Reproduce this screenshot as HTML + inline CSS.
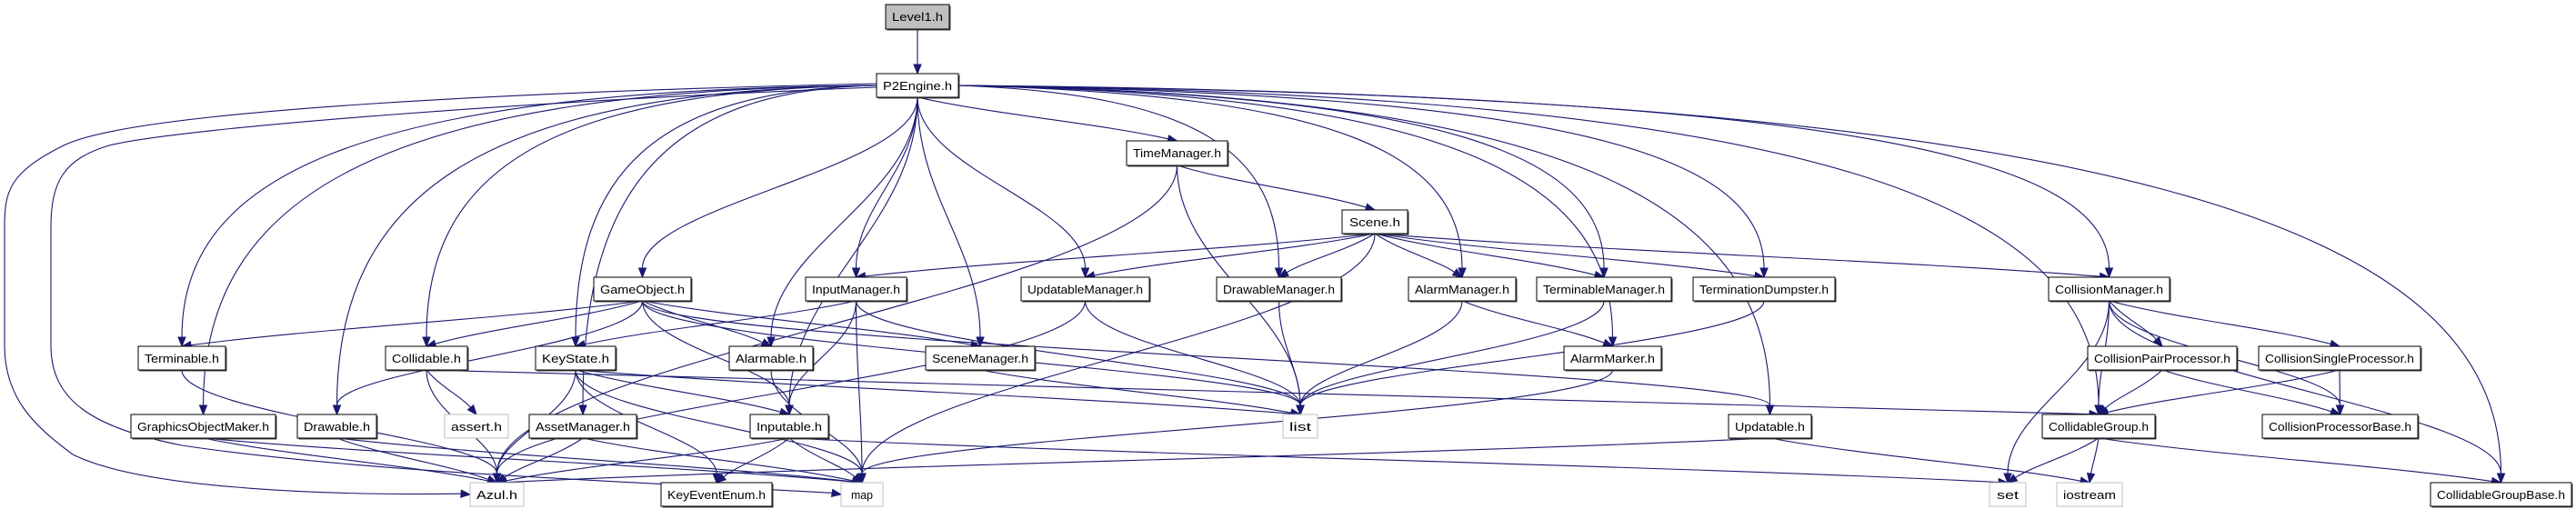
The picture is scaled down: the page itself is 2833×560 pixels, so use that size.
<!DOCTYPE html>
<html><head><meta charset="utf-8"><style>
html,body{margin:0;padding:0;background:#fff;}
svg{display:block}
text{font-family:"Liberation Sans",sans-serif;font-size:13px;fill:#000}
</style></head><body>
<svg id="g" width="2833" height="560" viewBox="0 0 2833 560" xmlns="http://www.w3.org/2000/svg"></svg>
<script>
var R=[[5,32],[81,107],[155,182],[231,257],[305,331],[381,407],[456,482],[531,557]];
var N={
"Level1.h":[974,1044,0,2],"P2Engine.h":[964,1054,1],"TimeManager.h":[1239,1350,2],"Scene.h":[1476,1548,3],
"GameObject.h":[653,760,4],"InputManager.h":[886,997,4],"UpdatableManager.h":[1123,1264,4],"DrawableManager.h":[1338,1475,4],
"AlarmManager.h":[1549,1667,4],"TerminableManager.h":[1690,1838,4],"TerminationDumpster.h":[1862,2018,4],"CollisionManager.h":[2253,2386,4],
"Terminable.h":[152,248,5],"Collidable.h":[424,514,5],"KeyState.h":[589,677,5],"Alarmable.h":[802,894,5],"SceneManager.h":[1018,1138,5],
"AlarmMarker.h":[1720,1827,5],"CollisionPairProcessor.h":[2296,2460,5],"CollisionSingleProcessor.h":[2484,2662,5],
"GraphicsObjectMaker.h":[144,303,6],"Drawable.h":[327,414,6],"assert.h":[489,559,6,1],"AssetManager.h":[582,700,6],"Inputable.h":[825,911,6],
"list":[1411,1449,6,1],"Updatable.h":[1901,1992,6],"CollidableGroup.h":[2246,2370,6],"CollisionProcessorBase.h":[2488,2659,6],
"Azul.h":[517,576,7,1],"KeyEventEnum.h":[727,849,7],"map":[925,971,7,1],"set":[2188,2228,7,1],"iostream":[2262,2334,7,1],"CollidableGroupBase.h":[2673,2828,7]};
var E=[["Level1.h","P2Engine.h"]];
["Terminable.h","GraphicsObjectMaker.h","Drawable.h","Collidable.h","AssetManager.h","GameObject.h","KeyState.h","Inputable.h","Alarmable.h","InputManager.h","SceneManager.h","UpdatableManager.h","TimeManager.h","DrawableManager.h","AlarmManager.h","TerminableManager.h","TerminationDumpster.h","AlarmMarker.h","Updatable.h","CollidableGroup.h","CollisionManager.h","CollidableGroupBase.h"].forEach(function(t){E.push(["P2Engine.h",t])});
var more={"GameObject.h":["Terminable.h","Drawable.h","Collidable.h","Alarmable.h","Inputable.h","SceneManager.h","Updatable.h","list"],
"Collidable.h":["assert.h","Azul.h","CollidableGroup.h"],"KeyState.h":["Inputable.h","KeyEventEnum.h","Azul.h","map","list"],
"Terminable.h":["Azul.h"],"GraphicsObjectMaker.h":["Azul.h","map"],"Drawable.h":["Azul.h","map"],"AssetManager.h":["Azul.h","map"],
"Inputable.h":["Azul.h","KeyEventEnum.h","map","set"],"Alarmable.h":["map"],"InputManager.h":["KeyState.h","Inputable.h","map","list"],
"TimeManager.h":["Scene.h","list","Azul.h"],"Scene.h":["InputManager.h","UpdatableManager.h","DrawableManager.h","AlarmManager.h","TerminableManager.h","TerminationDumpster.h","CollisionManager.h","map"],
"UpdatableManager.h":["list","Azul.h"],"SceneManager.h":["list"],"DrawableManager.h":["list"],"AlarmManager.h":["list","AlarmMarker.h"],
"TerminableManager.h":["list"],"TerminationDumpster.h":["list"],"AlarmMarker.h":["map"],"Updatable.h":["iostream","Azul.h"],
"CollisionManager.h":["CollisionPairProcessor.h","CollisionSingleProcessor.h","CollidableGroup.h","set","CollisionProcessorBase.h","CollidableGroupBase.h"],
"CollisionPairProcessor.h":["CollidableGroup.h","CollisionProcessorBase.h"],"CollisionSingleProcessor.h":["CollidableGroup.h","CollisionProcessorBase.h"],
"CollidableGroup.h":["set","iostream","CollidableGroupBase.h"]};
for(var s in more)more[s].forEach(function(t){E.push([s,t])});
var svg=document.getElementById("g"),out="",C="#191970";
function arrow(x,y,px,py){var dx=x-px,dd=y-py,L=Math.sqrt(dx*dx+dd*dd)||1;dx/=L;dd/=L;var bx=x-dx*10,by=y-dd*10;
 return {bx:bx,by:by,p:'<polygon points="'+x+','+y+' '+(bx-dd*4)+','+(by+dx*4)+' '+(bx+dd*4)+','+(by-dx*4)+'" fill="'+C+'" stroke="'+C+'"/>'};}
E.forEach(function(e){
 var a=N[e[0]],b=N[e[1]];
 var sx=(a[0]+a[1])/2,sy=R[a[2]][1],tx=(b[0]+b[1])/2,ty=R[b[2]][0];
 var c1x,c1y,c2x,c2y;
 if(e[0]=="P2Engine.h"&&Math.abs(tx-sx)>350){
   sy=94; sx=tx>sx?1054:964;
   c1x=sx+(tx-sx)*0.75;c1y=sy+(tx>sx?10:5);c2x=tx;c2y=sy+(ty-sy)*0.35;
 }else if(b[2]==a[2]){
   sy=(R[a[2]][0]+R[a[2]][1])/2;ty=sy;sx=tx>sx?a[1]:a[0];tx=tx>sx?b[0]:b[1];
   c1x=(sx+tx)/2;c1y=sy;c2x=(sx+tx)/2;c2y=ty;
 }else{
   var dy=ty-sy;c1x=sx;c1y=sy+dy*0.4;c2x=tx;c2y=ty-dy*0.4;
   if(b[2]-a[2]==1){c1x=sx+(tx-sx)*0.3;c2x=tx-(tx-sx)*0.3;}
 }
 var A=arrow(tx,ty,c2x,c2y);
 out+='<path d="M'+sx+','+sy+' C'+c1x+','+c1y+' '+c2x+','+c2y+' '+A.bx+','+A.by+'" fill="none" stroke="'+C+'" stroke-width="1.1"/>'+A.p;
});
// far-left routed edges from P2Engine to Azul.h and map
var A1=arrow(517,544,505,543);
out+='<path d="M964,92 C600,100 150,120 70,160 C10,190 5,210 5,250 L5,380 C5,440 40,470 80,500 C160,540 380,545 '+A1.bx+','+A1.by+'" fill="none" stroke="'+C+'" stroke-width="1.1"/>'+A1.p;
var A2=arrow(925,544,913,542);
out+='<path d="M964,96 C600,110 200,140 120,160 C70,175 56,200 56,250 L56,380 C56,440 100,470 200,490 C400,520 700,530 '+A2.bx+','+A2.by+'" fill="none" stroke="'+C+'" stroke-width="1.1"/>'+A2.p;
for(var k in N){var n=N[k],y0=R[n[2]][0],y1=R[n[2]][1],w=n[1]-n[0];
 var fill=n[3]==2?"#bfbfbf":"#fff",st=n[3]==1?"#bfbfbf":"#000";
 if(n[3]!=1)out+='<rect x="'+(n[0]+1.5)+'" y="'+(y0+1.5)+'" width="'+w+'" height="'+(y1-y0)+'" fill="#444"/>';
 out+='<rect x="'+n[0]+'" y="'+y0+'" width="'+w+'" height="'+(y1-y0)+'" fill="'+fill+'" stroke="'+st+'" stroke-width="1"/>';
 out+='<text x="'+(n[0]+w/2)+'" y="'+(y0+18)+'" text-anchor="middle" textLength="'+Math.min(w-14,k.length*8)+'" lengthAdjust="spacingAndGlyphs">'+k+'</text>';
}
svg.innerHTML=out;
</script>
</body></html>
